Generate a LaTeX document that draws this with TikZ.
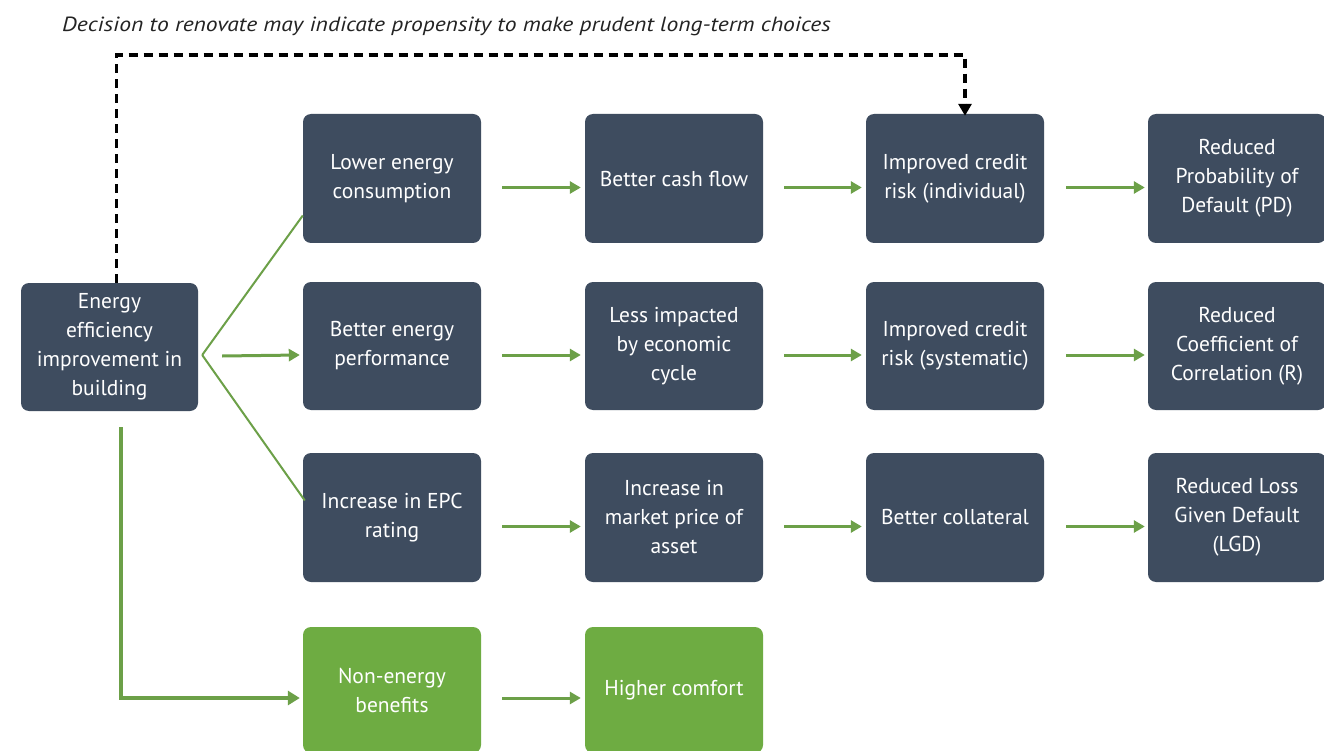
\documentclass[tikz,border=0pt]{standalone}
\usepackage{fontspec}
\setmainfont{PT Sans}
\usetikzlibrary{arrows.meta,calc}
\definecolor{navy}{RGB}{62,76,95}
\definecolor{gbox}{RGB}{110,172,66}
\definecolor{garr}{RGB}{108,160,72}
\definecolor{ttl}{RGB}{35,35,35}
\begin{document}
\begin{tikzpicture}[x=1pt,y=-1pt,
  box/.style={rectangle,rounded corners=8pt,fill=navy,text=white,align=center,
    inner sep=0pt,font=\fontsize{21.5}{29}\selectfont},
  gbx/.style={box,fill=gbox},
  garrow/.style={draw=garr,line width=3pt,-{Triangle[length=11pt,width=12pt]}},
  gline/.style={draw=garr,line width=2pt},
  gthick/.style={draw=garr,line width=4pt,-{Triangle[length=12pt,width=14pt]}},
  dasharrow/.style={draw=black,line width=3.5pt,dash pattern=on 9pt off 6pt,-{Triangle[length=12pt,width=13pt]}}]
\useasboundingbox[fill=white] (0,0) rectangle (1324,751);

\node[anchor=west,xscale=1.15,transform shape,font=\fontsize{20.5}{23}\selectfont\itshape,text=ttl,inner sep=0pt] (title) at (62,26)
  {Decision to renovate may indicate propensity to make prudent long-term choices};

\node[box,minimum width=177pt,minimum height=128pt] (src) at (109.5,347)
  {Energy\\efficiency\\improvement in\\building};

% column 2
\node[box,minimum width=178pt,minimum height=129pt] (b12) at (392,178.5) {Lower energy\\consumption};
\node[box,minimum width=178pt,minimum height=128pt] (b22) at (392,346) {Better energy\\performance};
\node[box,minimum width=178pt,minimum height=129pt] (b32) at (392,517.5) {Increase in EPC\\rating};
\node[gbx,minimum width=178pt,minimum height=126pt] (b42) at (392,690) {Non-energy\\benefits};
% column 3
\node[box,minimum width=178pt,minimum height=129pt] (b13) at (674,178.5) {Better cash flow};
\node[box,minimum width=178pt,minimum height=128pt] (b23) at (674,346) {Less impacted\\by economic\\cycle};
\node[box,minimum width=178pt,minimum height=129pt] (b33) at (674,517.5) {Increase in\\market price of\\asset};
\node[gbx,minimum width=178pt,minimum height=126pt] (b43) at (674,690) {Higher comfort};
% column 4
\node[box,minimum width=178pt,minimum height=129pt] (b14) at (955,178.5) {Improved credit\\risk (individual)};
\node[box,minimum width=178pt,minimum height=128pt] (b24) at (955,346) {Improved credit\\risk (systematic)};
\node[box,minimum width=178pt,minimum height=129pt] (b34) at (955,517.5) {Better collateral};
% column 5
\node[box,minimum width=178pt,minimum height=129pt] (b15) at (1237,178.5) {Reduced\\Probability of\\Default (PD)};
\node[box,minimum width=178pt,minimum height=128pt] (b25) at (1237,346) {Reduced\\Coefficient of\\Correlation (R)};
\node[box,minimum width=178pt,minimum height=129pt] (b35) at (1237,517.5) {Reduced Loss\\Given Default\\(LGD)};

% fan from source
\coordinate (fan) at ([xshift=4pt,yshift=-8pt]src.east);
\draw[gline] (fan) -- ([yshift=-37pt]b12.west);
\draw[gline] (fan) -- ([xshift=2pt,yshift=17pt]b32.west);
\draw[garrow] ([xshift=24pt,yshift=-9pt]src.east) -- ([xshift=-3pt,yshift=-9pt]b22.west);

% row arrows
\foreach \r in {1,2,3}{
  \draw[garrow] ([xshift=21pt,yshift=-9pt]b\r2.east) -- ([xshift=-4pt,yshift=-9pt]b\r3.west);
  \draw[garrow] ([xshift=21pt,yshift=-9pt]b\r3.east) -- ([xshift=-4pt,yshift=-9pt]b\r4.west);
  \draw[garrow] ([xshift=22pt,yshift=-9pt]b\r4.east) -- ([xshift=-3pt,yshift=-9pt]b\r5.west);
}
\draw[garrow] ([xshift=21pt,yshift=-8pt]b42.east) -- ([xshift=-4pt,yshift=-8pt]b43.west);

% green L to non-energy benefits
\draw[gthick] ([xshift=11pt,yshift=-16pt]src.south) |- ([xshift=-3pt,yshift=-8pt]b42.west);

% dashed feedback
\coordinate (dtop) at (117,55);
\draw[dasharrow] ([xshift=7pt]src.north) -- ([xshift=7pt]src.north |- dtop) -| ([xshift=10pt,yshift=-2pt]b14.north);
\end{tikzpicture}
\end{document}
